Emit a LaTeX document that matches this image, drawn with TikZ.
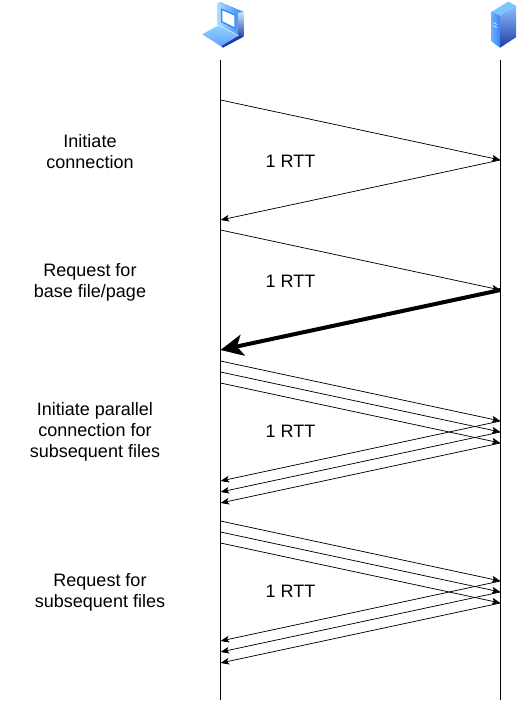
\documentclass[tikz,border=0pt]{standalone}
\usepackage{fontspec}
\setmainfont{Liberation Sans}
\usetikzlibrary{arrows.meta}
\definecolor{iconlight}{RGB}{120,200,255}
\definecolor{iconmid}{RGB}{50,135,250}
\definecolor{icondark}{RGB}{30,60,170}
\tikzset{
	msg/.style={-{Stealth[length=6.5pt,width=5pt,inset=1.6pt]},black,line width=0.55pt},
	bigmsg/.style={-{Stealth[length=17pt,width=16pt,inset=4.5pt]},black,line width=3pt},
	lifeline/.style={draw=black,line width=0.75pt},
	label text/.style={font=\fontsize{13.5}{15.75}\selectfont,align=center,text=black},
	icon edge/.style={draw=white,line width=0.3pt}
}

\begin{document}
\begin{tikzpicture}[x=0.75pt,y=-0.75pt]
	\useasboundingbox (0,0) rectangle (519,702);
	\fill[white] (0,0) rectangle (519,702);
	% laptop
	\fill[icondark] (219.5,2) -- (243.3,12) -- (243.3,36.7) -- (222.7,47.7) -- (218.3,25) -- cycle;
	\shade[left color=iconlight!60!white,right color=iconmid,draw=none] (217,4) -- (219.5,2) -- (243.3,12) -- (240.5,14) -- (240.5,37) -- (217,26) -- cycle;
	\shade[top color=iconlight!40!white,bottom color=icondark] (238,13) -- (243.3,12) -- (243.3,36) -- (238.5,38) -- cycle;
	\fill[white,draw=iconmid,line width=1pt] (221.7,9.3) -- (235,15) -- (235,28.3) -- (221.7,21.7) -- cycle;
	\shade[top color=iconlight!80!white,bottom color=iconmid!80!white,icon edge] (201.7,34.3) -- (218.3,25) -- (240,36.5) -- (222.7,47.7) -- cycle;
	\fill[icondark] (222.7,47.7) -- (243.3,36.7) -- (240,35) -- (221.5,46) -- cycle;
	% server
	\fill[iconlight] (491.7,11.7) -- (508.3,1.7) -- (516,5.7) -- (500,15.7) -- cycle;
	\shade[left color=iconmid!70!white,right color=iconmid] (491.7,11.7) -- (500,15.7) -- (500,47.7) -- (491.7,41.7) -- cycle;
	\shade[top color=iconmid!55!white,bottom color=icondark] (500,15.7) -- (516,5.7) -- (516,37.3) -- (500,47.7) -- cycle;
	\draw[white,line width=0.4pt] (493.5,22.5) -- (497,24.5) (493.5,25.5) -- (497,27.5);
	% lifelines
	\coordinate (clienttop) at (220.5,60);
	\coordinate (clientend) at (220.5,700);
	\coordinate (servertop) at (500.5,60);
	\coordinate (serverend) at (500.5,700);
	\draw[lifeline] (clienttop) -- (clientend);
	\draw[lifeline] (servertop) -- (serverend);
	% connection
	\coordinate (c1) at (220.5,100);
	\coordinate (s1) at (500.5,160);
	\coordinate (c2) at (220.5,220);
	\draw[msg] (c1) -- (s1);
	\draw[msg] (s1) -- (c2);
	% base file
	\coordinate (c3) at (220.5,230);
	\coordinate (s3) at (500.5,290);
	\coordinate (c4) at (220.5,350);
	\draw[msg] (c3) -- (s3);
	\draw[bigmsg] (s3) -- (c4);
	% parallel connections and requests
	\foreach \i/\t in {1/361,2/372,3/383,4/521,5/532,6/543}{
		\coordinate (pc\i) at (220.5,\t);
		\coordinate (ps\i) at (500.5,\t+60);
		\coordinate (pr\i) at (220.5,\t+120);
		\draw[msg] (pc\i) -- (ps\i);
		\draw[msg] (ps\i) -- (pr\i);
	}
	\node[label text] (initiate) at (90,152) {Initiate\\connection};
	\node[label text] (request) at (90,282.5) {Request for\\base file/page};
	\node[label text] (parallel) at (95,432) {Initiate parallel\\connection for\\subsequent files};
	\node[label text] (subsequent) at (100,592.5) {Request for\\subsequent files};
	\node[label text] (rtt1) at (290.5,161) {1 RTT};
	\node[label text] (rtt2) at (290.5,281) {1 RTT};
	\node[label text] (rtt3) at (290.5,431) {1 RTT};
	\node[label text] (rtt4) at (290.5,591) {1 RTT};
\end{tikzpicture}
\end{document}
